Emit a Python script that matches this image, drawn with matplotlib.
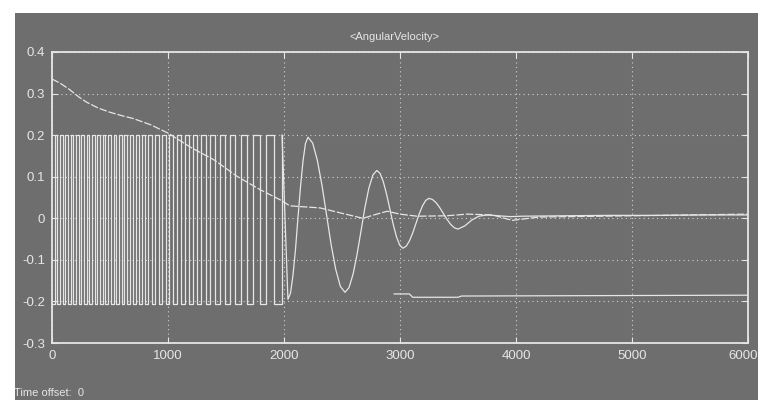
"""Scope-style plot of <AngularVelocity> (Simulink scope look)."""

import matplotlib
matplotlib.use("Agg")

import matplotlib.pyplot as plt
import matplotlib.transforms as mtransforms
from matplotlib.patches import Rectangle

BG = "#6e6e6e"
FG = "#e6e6e6"

# dense +/-0.2 chirp: times where the signal flips between the two levels
chirp_t = [
    0, 22, 45, 68, 92, 115, 137, 160, 183, 207, 230, 252, 276, 299, 322,
    345, 368, 392, 415, 438, 461, 484, 507, 531, 554, 577, 600, 624, 647, 670,
    695, 721, 748, 775, 803, 831, 860, 889, 919, 949, 980, 1011, 1043, 1076,
    1109, 1143, 1178, 1213, 1249, 1286, 1324, 1363,
    1404, 1446, 1489, 1534, 1581, 1630, 1681, 1734, 1790, 1848, 1910, 1983,
]
chirp_hi = 0.2
chirp_lo = -0.205

# damped oscillation after the chirp
osc_t = [
    2034, 2056, 2077, 2099, 2120, 2142, 2164, 2185, 2207,
    2247, 2287, 2327, 2367, 2406, 2446, 2486, 2526,
    2560, 2595, 2629, 2663, 2697, 2731, 2766, 2800,
    2828, 2856, 2885, 2913, 2941, 2970, 2998, 3026,
    3054, 3082, 3110, 3138, 3166, 3194, 3222, 3250,
    3281, 3313, 3344, 3375, 3406, 3438, 3469, 3500,
    3560, 3620, 3680, 3750, 3850, 3950, 4050, 4400, 4800, 5200, 5600, 6000,
]
osc_y = [
    -0.195, -0.180, -0.138, -0.075, 0.0, 0.075, 0.138, 0.180, 0.195,
    0.181, 0.140, 0.080, 0.008, -0.063, -0.123, -0.164, -0.178,
    -0.167, -0.135, -0.088, -0.032, 0.025, 0.072, 0.104, 0.115,
    0.108, 0.088, 0.057, 0.022, -0.014, -0.045, -0.065, -0.072,
    -0.067, -0.054, -0.035, -0.012, 0.011, 0.030, 0.043, 0.048,
    0.045, 0.037, 0.025, 0.011, -0.003, -0.015, -0.023, -0.026,
    -0.018, -0.004, 0.005, 0.008, 0.006, 0.004, 0.005, 0.006, 0.007, 0.007, 0.008, 0.008,
]

# slowly decaying signal
decay_t = [0, 70, 150, 230, 300, 400, 500, 600, 700, 850, 1000, 1200, 1400,
           1600, 1800, 1970, 2050, 2150, 2310, 2500, 2680, 2800, 2890, 3000,
           3146, 3400, 3578, 3800, 3966, 4200, 5000, 6000]
decay_y = [0.335, 0.325, 0.31, 0.292, 0.279, 0.265, 0.255, 0.247, 0.24,
           0.225, 0.205, 0.17, 0.14, 0.10, 0.068, 0.044, 0.03, 0.028, 0.025,
           0.012, 0.0, 0.01, 0.017, 0.01, 0.005, 0.006, 0.01, 0.008, -0.005,
           0.003, 0.006, 0.01]

# flat low signal
low_t = [2950, 3080, 3110, 3500, 3530, 6000]
low_y = [-0.182, -0.182, -0.19, -0.19, -0.187, -0.185]

x_ticks = [0, 1000, 2000, 3000, 4000, 5000, 6000]
y_ticks = [-0.3, -0.2, -0.1, 0, 0.1, 0.2, 0.3, 0.4]
y_labels = ["-0.3", "-0.2", "-0.1", "0", "0.1", "0.2", "0.3", "0.4"]


def main() -> None:
    plt.rcParams["font.family"] = ["Liberation Sans", "DejaVu Sans"]
    fig = plt.figure(figsize=(7.58, 4.0), dpi=100, facecolor="white")
    fig.patches.append(Rectangle((15 / 758, 0.0), 1 - 15 / 758, 1 - 13 / 400,
                                 transform=fig.transFigure, facecolor=BG,
                                 edgecolor="none", zorder=-10))
    ax = fig.add_axes([52 / 758, 1 - 343 / 400, 696 / 758, 291 / 400])
    ax.set_zorder(5)
    ax.set_facecolor(BG)

    # levels alternate so that the last flip (at the end of the chirp) goes high
    n = len(chirp_t)
    chirp_y = [chirp_hi if (n - 1 - i) % 2 == 0 else chirp_lo for i in range(n)]
    ax.plot(chirp_t, chirp_y, color=FG, lw=0.9, drawstyle="steps-post")
    ax.plot(chirp_t[-1:] + osc_t, chirp_y[-1:] + osc_y, color=FG, lw=0.9)
    ax.plot(decay_t, decay_y, color=FG, lw=0.9, ls=(0, (6, 1.5)))
    ax.plot(low_t, low_y, color=FG, lw=0.9)

    ax.set_xlim(0, 6000)
    ax.set_ylim(-0.3, 0.4)
    ax.set_xticks(x_ticks)
    ax.set_yticks(y_ticks)
    ax.set_yticklabels(y_labels)
    ax.grid(True, color="#d0d0d0", ls=(0, (1, 3)), lw=0.8)
    ax.tick_params(direction="in", length=4, color=FG, labelcolor=FG,
                   labelsize=9.5, top=True, right=True, pad=5)
    for s in ax.spines.values():
        s.set_color(FG)
        s.set_linewidth(1.3)

    # last x label sits against the right edge, keep it inside the figure
    last = ax.get_xticklabels()[-1]
    last.set_horizontalalignment("right")
    last.set_transform(last.get_transform() + mtransforms.ScaledTranslation(
        10 / 100, 0, fig.dpi_scale_trans))

    fig.text(395 / 758, 1 - 37 / 400, "<AngularVelocity>", color=FG,
             fontsize=8, ha="center", va="center")
    fig.text(14 / 758, 1 - 393 / 400, "Time offset:  0", color=FG,
             fontsize=8, ha="left", va="center")

    fig.savefig("out.png", dpi=100, facecolor=fig.get_facecolor())
    plt.close(fig)


if __name__ == "__main__":
    main()
